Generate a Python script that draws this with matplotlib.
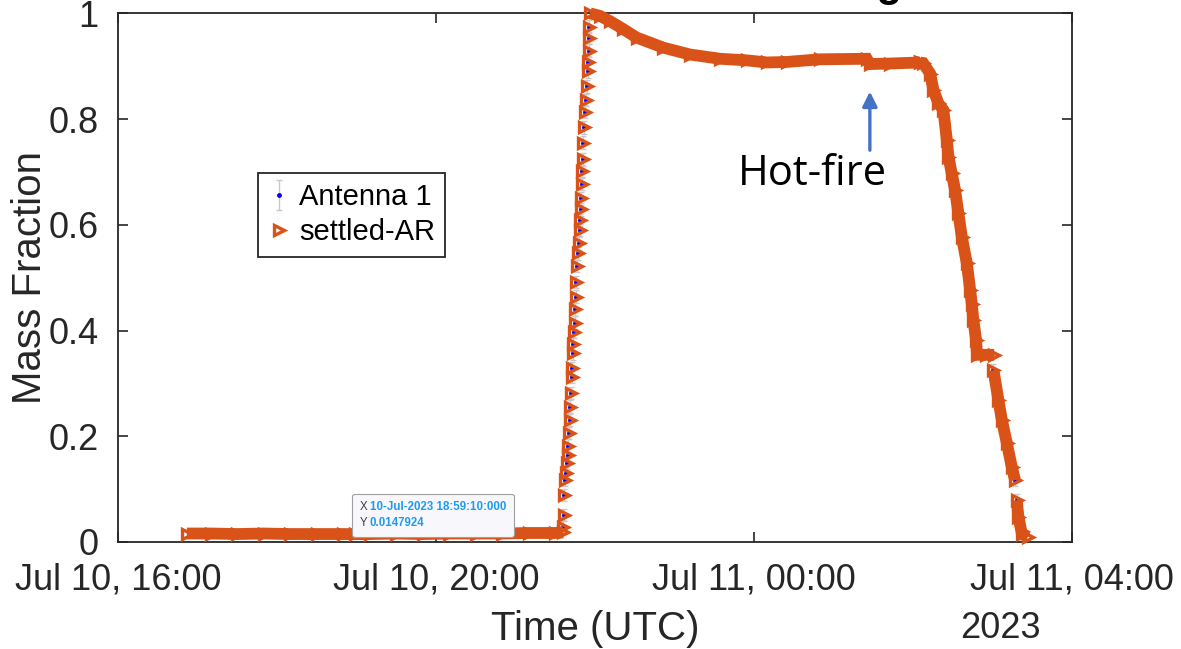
import datetime
import matplotlib
matplotlib.use("Agg")
import matplotlib.pyplot as plt
from matplotlib import dates
from matplotlib.offsetbox import TextArea, HPacker, AnnotationBbox

plt.rcParams['font.family'] = ['Liberation Sans', 'DejaVu Sans']

t0 = datetime.datetime(2023, 7, 10, 16, 0)

# Minuten nach 16:00 UTC und Massenanteil, abschnittsweise
low_min = [52, 70, 90, 110, 130, 150, 170, 179.2, 190, 210, 230, 250, 270, 290, 310, 330, 336]
low_val = [0.016, 0.016, 0.015, 0.016, 0.015, 0.015, 0.015, 0.0148, 0.015, 0.016, 0.015, 0.016,
           0.016, 0.016, 0.017, 0.017, 0.018]

rise_min = [336.2, 336.7, 336.7, 337.5, 338.2, 339.2, 340.0, 340.0, 340.7, 341.3, 341.3, 342.0,
            342.5, 342.5, 343.3, 343.3, 344.3, 344.8, 345.3, 345.8, 345.8, 346.8, 347.5, 347.8,
            348.6, 348.8, 349.3, 349.8, 350.1, 350.5, 350.8, 351.3, 351.8, 352.6, 353.3, 353.9,
            354.6, 355.1, 355.4, 355.6, 355.8]
rise_val = [0.029, 0.051, 0.089, 0.117, 0.130, 0.150, 0.165, 0.182, 0.206, 0.231, 0.256, 0.282,
            0.312, 0.329, 0.357, 0.375, 0.398, 0.415, 0.440, 0.464, 0.492, 0.522, 0.546, 0.565,
            0.590, 0.609, 0.629, 0.650, 0.677, 0.702, 0.724, 0.755, 0.784, 0.814, 0.836, 0.862,
            0.890, 0.908, 0.929, 0.953, 0.975]

top_min = [356.4, 363.9, 371.5, 381.5, 391.6, 411.7, 431.9, 454.5, 474.7, 489.8, 504.9, 530.0,
           565.3, 567.6, 582.9, 605.5]
top_val = [1.0, 0.995, 0.985, 0.970, 0.954, 0.935, 0.922, 0.914, 0.911, 0.907, 0.908, 0.913,
           0.914, 0.904, 0.905, 0.907]

fall_min = [605.5, 607.8, 613.1, 615.6, 619.3, 623.1, 625.7, 626.9, 629.4, 631.9, 634.4, 637.0,
            640.8, 643.3, 644.5, 645.7, 647.8, 648.5, 655.0, 661.4]
fall_val = [0.907, 0.906, 0.886, 0.855, 0.830, 0.817, 0.760, 0.729, 0.697, 0.666, 0.622, 0.577,
            0.527, 0.477, 0.451, 0.420, 0.382, 0.354, 0.354, 0.354]

tail1_min = [660.9, 664.6, 667.2, 671.0, 674.7, 677.2]
tail1_val = [0.325, 0.269, 0.231, 0.187, 0.142, 0.117]

tail2_min = [678.5, 679.7, 682.3, 687.0]
tail2_val = [0.079, 0.048, 0.016, 0.010]

ant_err = 0.012
tip_min = 179.1667
tip_val = 0.0147924


def zeit(minuten):
    return [t0 + datetime.timedelta(minutes=m) for m in minuten]


orange = '#D95319'
fig = plt.figure(figsize=(11.81, 6.49), dpi=100)
ax = fig.add_axes([0.0999, 0.1649, 0.8076, 0.8146])

# Antenna 1: blaue Punkte mit grauen Fehlerbalken
ant_min = rise_min + fall_min[5:17] + tail1_min + tail2_min[:3]
ant_val = rise_val + fall_val[5:17] + tail1_val + tail2_val[:3]
ant = ax.errorbar(zeit(ant_min), ant_val, yerr=ant_err, fmt='.', color='#0000FF', ms=5,
                  ecolor='#C8C8C8', elinewidth=1, capsize=2, label='Antenna 1', zorder=2)

# settled-AR: dichte Abschnitte als dicke Linie mit Markern
for mins, vals in [(low_min, low_val), (top_min, top_val), (fall_min, fall_val),
                   (tail1_min, tail1_val), (tail2_min, tail2_val)]:
    ax.plot(zeit(mins), vals, '-', color=orange, lw=8.5, solid_capstyle='butt',
            solid_joinstyle='miter', clip_on=False, zorder=3)
    ax.plot(zeit(mins), vals, '>', ms=7, mfc='none', mec=orange, mew=2.4,
            clip_on=False, zorder=3)
sar, = ax.plot(zeit(rise_min), rise_val, '>', ms=7, mfc='none', mec=orange, mew=2.4,
               label='settled-AR', clip_on=False, zorder=3)

# Datentip
ax.plot(zeit([tip_min]), [tip_val], 'o', ms=4, mfc='black', mec='white', mew=0.8, zorder=5)
lab = TextArea("X\nY", textprops=dict(color='#404040', fontsize=8.3, linespacing=1.45))
wert = TextArea("10-Jul-2023 18:59:10:000\n0.0147924",
                textprops=dict(color='#1E9BEF', fontsize=8.3, fontweight='bold',
                               linespacing=1.45))
box = HPacker(children=[lab, wert], align='top', pad=0, sep=2)
ab = AnnotationBbox(box, (zeit([tip_min])[0], tip_val), xybox=(3, 3.5), xycoords='data',
                    boxcoords='offset points', box_alignment=(0, 0), pad=0.55,
                    bboxprops=dict(boxstyle='round,pad=0.55,rounding_size=0.2',
                                   facecolor='#F8F8FC', edgecolor='#A0A0A0', lw=0.8),
                    zorder=6)
ax.add_artist(ab)

# Hot-fire Markierung
hf = zeit([567.6])[0]
ax.annotate('', xy=(hf, 0.852), xytext=(hf, 0.741),
            arrowprops=dict(arrowstyle='-|>', color='#4472C4', lw=2.4, mutation_scale=22,
                            shrinkA=0, shrinkB=0))
ax.text(zeit([524])[0], 0.675, 'Hot-fire', fontsize=30, family='Open Sans',
        ha='center', va='baseline', color='black')

# Achsen im MATLAB-Stil
ax.set_xlim(t0, t0 + datetime.timedelta(hours=12))
ax.set_ylim(0, 1)
ax.xaxis.set_major_locator(dates.HourLocator(byhour=[0, 4, 8, 12, 16, 20]))
ax.xaxis.set_major_formatter(dates.DateFormatter("%b %d, %H:%M"))
ax.set_yticks([0, 0.2, 0.4, 0.6, 0.8, 1])
ax.set_yticklabels(['0', '0.2', '0.4', '0.6', '0.8', '1'])
ax.tick_params(direction='in', length=7, width=1.2, top=True, right=True, labelsize=26,
               color='#262626', labelcolor='#262626')
ax.tick_params(axis='y', pad=14)
ax.tick_params(axis='x', pad=15)
for s in ax.spines.values():
    s.set_color('#262626')
    s.set_linewidth(1.3)

ax.set_xlabel('Time (UTC)', fontsize=29, color='#262626', labelpad=9)
ax.set_ylabel('Mass Fraction', fontsize=29, color='#262626')
ax.yaxis.set_label_coords(-0.072, 0.5)
fig.text(1000 / 1181, 0.032, '2023', fontsize=26, color='#262626', ha='center', va='center')

# Titel liegt groesstenteils oberhalb des Bildrands
fig.text(0.764, 1.006, 'Tank Loading', fontsize=30, fontweight='bold',
         ha='right', va='baseline')

leg = ax.legend([ant, sar], ['Antenna 1', 'settled-AR'], loc='upper left',
                bbox_to_anchor=(0.147, 0.698), borderaxespad=0,
                fontsize=21, frameon=True, fancybox=False, edgecolor='#262626',
                framealpha=1, handlelength=0.7, handletextpad=0.35, borderpad=0.35,
                labelspacing=0.25)
leg.get_frame().set_linewidth(1.3)

fig.savefig('out.png', dpi=100)
plt.close()
